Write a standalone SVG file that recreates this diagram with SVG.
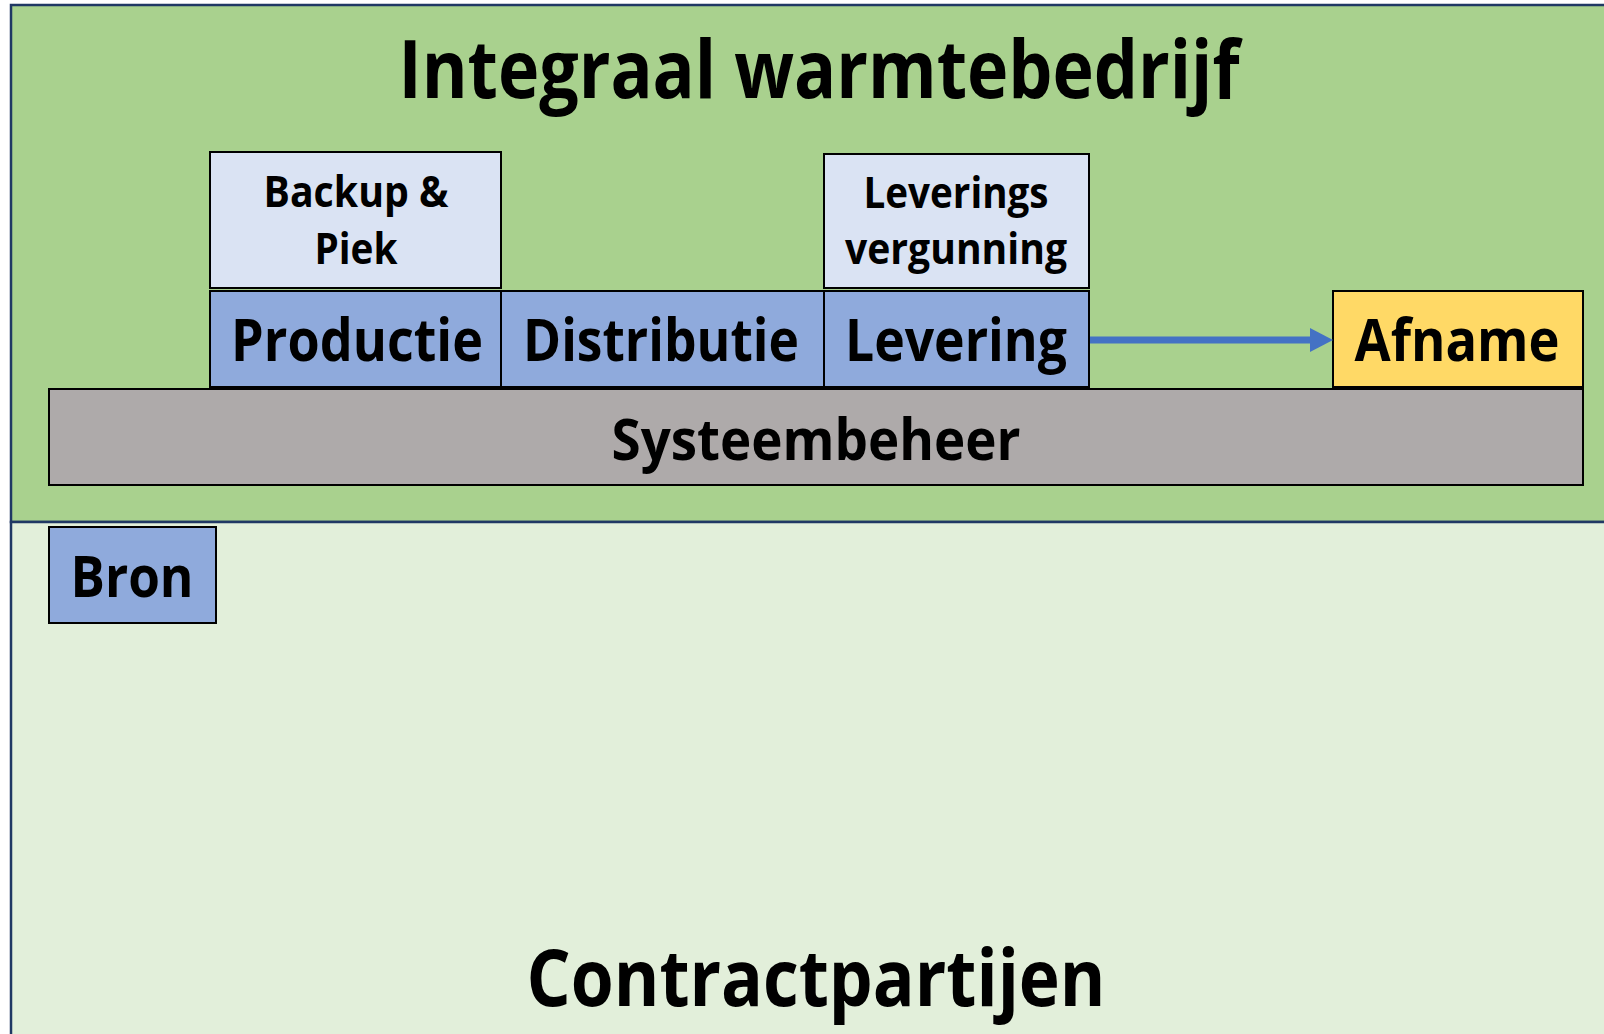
<svg xmlns="http://www.w3.org/2000/svg" width="1604" height="1034" viewBox="0 0 1604 1034">
<style>
.area{stroke:#203864;stroke-width:2.5}
.box{stroke:#000;stroke-width:2}
.t{font-family:"Open Sans","Liberation Sans",sans-serif;font-weight:bold;fill:#000;text-anchor:middle}
</style>
<defs>
<marker id="ah" markerWidth="23" markerHeight="24" refX="23" refY="12" orient="auto" markerUnits="userSpaceOnUse">
<path d="M0,0 L23,12 L0,24 Z" fill="#4472C4"/>
</marker>
</defs>
<rect width="1604" height="1034" fill="#ffffff"/>
<g id="integraal">
<rect class="area" x="11" y="5" width="1610" height="517" fill="#A9D18E"/>
<text class="t" x="819" y="98" font-size="80" textLength="841" lengthAdjust="spacingAndGlyphs">Integraal warmtebedrijf</text>
</g>
<g id="contractpartijen">
<rect class="area" x="11" y="522" width="1610" height="530" fill="#E2EFDA"/>
<text class="t" x="816" y="1006" font-size="78" textLength="579" lengthAdjust="spacingAndGlyphs">Contractpartijen</text>
</g>
<g id="backup">
<rect class="box" x="210" y="152" width="291" height="136" fill="#DAE3F3"/>
<text class="t" x="356" y="207" font-size="43" textLength="185" lengthAdjust="spacingAndGlyphs">Backup &amp;</text>
<text class="t" x="356" y="264" font-size="43" textLength="83" lengthAdjust="spacingAndGlyphs">Piek</text>
</g>
<g id="vergunning">
<rect class="box" x="824" y="154" width="265" height="134" fill="#DAE3F3"/>
<text class="t" x="956" y="208" font-size="43" textLength="185" lengthAdjust="spacingAndGlyphs">Leverings</text>
<text class="t" x="956" y="264" font-size="43" textLength="222" lengthAdjust="spacingAndGlyphs">vergunning</text>
</g>
<g id="systeembeheer">
<rect class="box" x="49" y="389" width="1534" height="96" fill="#AEAAAA"/>
<text class="t" x="816" y="460" font-size="58" textLength="409" lengthAdjust="spacingAndGlyphs">Systeembeheer</text>
</g>
<g id="productie">
<rect class="box" x="210" y="291" width="291" height="96" fill="#8FAADC"/>
<text class="t" x="357" y="361" font-size="59" textLength="252" lengthAdjust="spacingAndGlyphs">Productie</text>
</g>
<g id="distributie">
<rect class="box" x="501" y="291" width="323" height="96" fill="#8FAADC"/>
<text class="t" x="661" y="361" font-size="59" textLength="276" lengthAdjust="spacingAndGlyphs">Distributie</text>
</g>
<g id="levering">
<rect class="box" x="824" y="291" width="265" height="96" fill="#8FAADC"/>
<text class="t" x="956" y="361" font-size="59" textLength="222" lengthAdjust="spacingAndGlyphs">Levering</text>
</g>
<g id="afname">
<rect class="box" x="1333" y="291" width="250" height="96" fill="#FFD966"/>
<text class="t" x="1457" y="361" font-size="59" textLength="205" lengthAdjust="spacingAndGlyphs">Afname</text>
</g>
<g id="bron">
<rect class="box" x="49" y="527" width="167" height="96" fill="#8FAADC"/>
<text class="t" x="132" y="597" font-size="58" textLength="123" lengthAdjust="spacingAndGlyphs">Bron</text>
</g>
<g id="connectors">
<line x1="1090" y1="340" x2="1312" y2="340" stroke="#4472C4" stroke-width="7"/>
<line x1="1310" y1="340" x2="1333" y2="340" stroke="#4472C4" stroke-width="0.1" marker-end="url(#ah)"/>
</g>
</svg>
